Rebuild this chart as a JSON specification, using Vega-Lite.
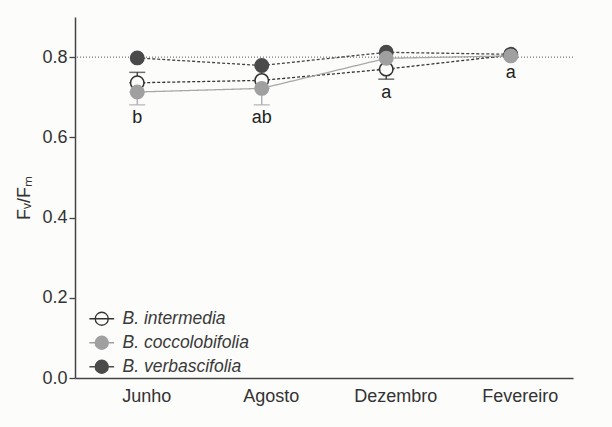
{
  "$schema": "https://vega.github.io/schema/vega-lite/v6.json",
  "width": 498,
  "height": 361,
  "autosize": {"type": "none"},
  "padding": {"left": 75, "top": 17, "right": 39, "bottom": 49},
  "background": "#fcfcfa",
  "config": {
    "font": "Liberation Sans",
    "view": {"stroke": null},
    "axis": {"grid": false, "domainColor": "#444", "domainWidth": 1.5, "tickColor": "#444", "tickWidth": 1.3, "labelColor": "#333", "labelFontSize": 18, "titleColor": "#333"}
  },
  "datasets": {
    "means": [
      {"month": "Junho", "species": "B. intermedia", "value": 0.736},
      {"month": "Agosto", "species": "B. intermedia", "value": 0.742},
      {"month": "Dezembro", "species": "B. intermedia", "value": 0.77},
      {"month": "Fevereiro", "species": "B. intermedia", "value": 0.805},
      {"month": "Junho", "species": "B. coccolobifolia", "value": 0.713},
      {"month": "Agosto", "species": "B. coccolobifolia", "value": 0.722},
      {"month": "Dezembro", "species": "B. coccolobifolia", "value": 0.797},
      {"month": "Fevereiro", "species": "B. coccolobifolia", "value": 0.803},
      {"month": "Junho", "species": "B. verbascifolia", "value": 0.798},
      {"month": "Agosto", "species": "B. verbascifolia", "value": 0.779},
      {"month": "Dezembro", "species": "B. verbascifolia", "value": 0.812},
      {"month": "Fevereiro", "species": "B. verbascifolia", "value": 0.807}
    ],
    "errs": [
      {"month": "Junho", "species": "B. intermedia", "lo": 0.736, "hi": 0.762},
      {"month": "Junho", "species": "B. coccolobifolia", "lo": 0.681, "hi": 0.713},
      {"month": "Agosto", "species": "B. coccolobifolia", "lo": 0.681, "hi": 0.722},
      {"month": "Dezembro", "species": "B. intermedia", "lo": 0.745, "hi": 0.77}
    ],
    "letters": [
      {"month": "Junho", "pos": 0.648, "letter": "b"},
      {"month": "Agosto", "pos": 0.648, "letter": "ab"},
      {"month": "Dezembro", "pos": 0.71, "letter": "a"},
      {"month": "Fevereiro", "pos": 0.76, "letter": "a"}
    ],
    "ref": [{"ref": 0.8}]
  },
  "encoding": {
    "x": {"field": "month", "type": "nominal", "sort": ["Junho", "Agosto", "Dezembro", "Fevereiro"],
      "scale": {"type": "point", "padding": 0.5},
      "axis": {"title": null, "ticks": false, "labelPadding": 9, "labelOffset": 9, "labelAngle": 0}}
  },
  "layer": [
    {
      "data": {"name": "ref"},
      "mark": {"type": "rule", "strokeDash": [1, 2], "color": "#555", "strokeWidth": 1},
      "encoding": {"x": null, "y": {"field": "ref", "type": "quantitative"}}
    },
    {
      "data": {"name": "means"},
      "mark": {"type": "line", "strokeWidth": 1.3},
      "encoding": {
        "y": {"field": "value", "type": "quantitative", "scale": {"domain": [0, 0.9]},
          "axis": {"title": "Fᵥ/Fₘ", "titleFontSize": 18, "titleFontWeight": "normal", "titlePadding": 8, "values": [0, 0.2, 0.4, 0.6, 0.8], "format": ".1f", "tickSize": 6, "labelPadding": 2}},
        "detail": {"field": "species"},
        "color": {"field": "species", "type": "nominal", "scale": {"domain": ["B. verbascifolia", "B. coccolobifolia", "B. intermedia"], "range": ["#444444", "#a8a8a8", "#333333"]}, "legend": null},
        "strokeDash": {"field": "species", "type": "nominal", "scale": {"domain": ["B. coccolobifolia", "B. intermedia", "B. verbascifolia"], "range": [[1, 0], [3, 2], [3, 2]]}, "legend": null}
      }
    },
    {
      "data": {"name": "errs"},
      "mark": {"type": "rule", "strokeWidth": 1.3},
      "encoding": {
        "y": {"field": "lo", "type": "quantitative"},
        "y2": {"field": "hi"},
        "color": {"field": "species", "type": "nominal", "legend": null}
      }
    },
    {
      "data": {"name": "errs"},
      "mark": {"type": "tick", "thickness": 1.5, "size": 16, "orient": "horizontal"},
      "encoding": {
        "y": {"field": "hi", "type": "quantitative"},
        "color": {"field": "species", "type": "nominal", "legend": null}
      }
    },
    {
      "data": {"name": "errs"},
      "mark": {"type": "tick", "thickness": 1.5, "size": 16, "orient": "horizontal"},
      "encoding": {
        "y": {"field": "lo", "type": "quantitative"},
        "color": {"field": "species", "type": "nominal", "legend": null}
      }
    },
    {
      "data": {"name": "means"},
      "mark": {"type": "point", "filled": true, "size": 180, "strokeWidth": 1.5, "opacity": 1, "fillOpacity": 1, "strokeOpacity": 1},
      "encoding": {
        "y": {"field": "value", "type": "quantitative"},
        "fill": {"field": "species", "type": "nominal",
          "scale": {"domain": ["B. intermedia", "B. coccolobifolia", "B. verbascifolia"], "range": ["#fcfcfa", "#a0a0a0", "#4a4a4a"]},
          "legend": {"title": null, "orient": "none", "legendX": 18, "legendY": 293, "labelFontSize": 17.5, "labelFontStyle": "italic", "labelColor": "#3a3a3a",
            "symbolType": "M -1 0 A 1 1 0 1 1 1 0 A 1 1 0 1 1 -1 0 Z M -1.9 0 L 1.9 0", "symbolSize": 170, "symbolStrokeWidth": 1.3, "labelOffset": 12, "rowPadding": 5}},
        "stroke": {"field": "species", "type": "nominal",
          "scale": {"domain": ["B. intermedia", "B. coccolobifolia", "B. verbascifolia"], "range": ["#333333", "#a0a0a0", "#4a4a4a"]}},
        "order": {"field": "species", "sort": "descending"}
      }
    },
    {
      "data": {"name": "letters"},
      "mark": {"type": "text", "fontSize": 18, "color": "#222"},
      "encoding": {
        "y": {"field": "pos", "type": "quantitative"},
        "text": {"field": "letter"}
      }
    }
  ]
}
